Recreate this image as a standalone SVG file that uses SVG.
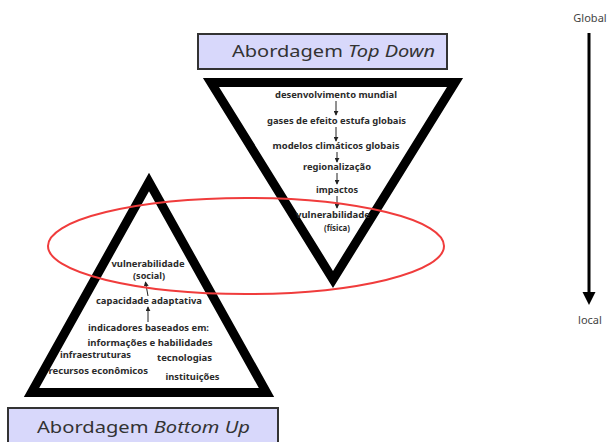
<svg xmlns="http://www.w3.org/2000/svg" width="608" height="442" viewBox="0 0 608 442">
<defs>
<style>
.head{font-family:"Noto Sans","DejaVu Sans",sans-serif;font-size:16px;fill:#333;}
.lbl{font-family:"Noto Sans","DejaVu Sans",sans-serif;font-size:9.2px;font-weight:bold;fill:#2b2b2b;text-anchor:middle;}
.lbs{font-family:"Noto Sans","DejaVu Sans",sans-serif;font-size:9.2px;font-weight:bold;fill:#2b2b2b;}
.side{font-family:"Noto Sans","DejaVu Sans",sans-serif;font-size:11px;fill:#444;text-anchor:middle;}
.tri{fill:#fff;stroke:#000;stroke-width:9;stroke-linejoin:miter;stroke-miterlimit:10;}
.box{fill:#d8d8fb;stroke:#333;stroke-width:2;}
.sm{stroke:#222;stroke-width:1;fill:none;marker-end:url(#ah);}
</style>
<marker id="ah" viewBox="0 0 6 6" refX="5" refY="3" markerWidth="5" markerHeight="5" markerUnits="userSpaceOnUse" orient="auto">
<path d="M0,0 L6,3 L0,6 Z" fill="#222"/>
</marker>
</defs>

<g id="topdown-title">
<rect class="box" x="198" y="34" width="249" height="35"/>
<text class="head" x="232" y="56.5" textLength="203" lengthAdjust="spacingAndGlyphs">Abordagem <tspan font-style="italic">Top Down</tspan></text>
</g>

<g id="topdown-triangle">
<polygon class="tri" points="211,82.5 455,82.5 333,279.5"/>
</g>

<g id="bottomup-triangle">
<polygon class="tri" points="149,182 31.5,392.5 266.5,392.5"/>
</g>

<g id="bottomup-title">
<rect class="box" x="8" y="408" width="270" height="40"/>
<text class="head" x="37" y="433" textLength="213" lengthAdjust="spacingAndGlyphs">Abordagem <tspan font-style="italic">Bottom Up</tspan></text>
</g>

<g id="topdown-labels">
<text class="lbl" x="336" y="98" textLength="122" lengthAdjust="spacingAndGlyphs">desenvolvimento mundial</text>
<text class="lbl" x="336.5" y="124" textLength="139" lengthAdjust="spacingAndGlyphs">gases de efeito estufa globais</text>
<text class="lbl" x="336" y="149" textLength="127" lengthAdjust="spacingAndGlyphs">modelos climáticos globais</text>
<text class="lbl" x="337" y="170" textLength="68" lengthAdjust="spacingAndGlyphs">regionalização</text>
<text class="lbl" x="337" y="193" textLength="42" lengthAdjust="spacingAndGlyphs">impactos</text>
<text class="lbl" x="333" y="217.5" textLength="74" lengthAdjust="spacingAndGlyphs">vulnerabilidade</text>
<text class="lbl" x="337" y="230.5" textLength="26" lengthAdjust="spacingAndGlyphs">(física)</text>
</g>

<g id="bottomup-labels">
<text class="lbl" x="148" y="267" textLength="73" lengthAdjust="spacingAndGlyphs">vulnerabilidade</text>
<text class="lbl" x="149" y="278.5" textLength="32" lengthAdjust="spacingAndGlyphs">(social)</text>
<text class="lbl" x="149" y="303.5" textLength="106" lengthAdjust="spacingAndGlyphs">capacidade adaptativa</text>
<text class="lbl" x="148.5" y="331" textLength="121" lengthAdjust="spacingAndGlyphs">indicadores baseados em:</text>
<text class="lbl" x="150" y="346" textLength="125" lengthAdjust="spacingAndGlyphs">informações e habilidades</text>
<text class="lbs" x="60" y="358" textLength="71" lengthAdjust="spacingAndGlyphs">infraestruturas</text>
<text class="lbs" x="157" y="360.5" textLength="55" lengthAdjust="spacingAndGlyphs">tecnologias</text>
<text class="lbs" x="48.5" y="374" textLength="99.5" lengthAdjust="spacingAndGlyphs">recursos econômicos</text>
<text class="lbs" x="165.5" y="380" textLength="54" lengthAdjust="spacingAndGlyphs">instituições</text>
</g>

<g id="connectors">
<line class="sm" x1="336" y1="101" x2="336" y2="115"/>
<line class="sm" x1="336" y1="127" x2="336" y2="141"/>
<line class="sm" x1="337" y1="152" x2="337" y2="162"/>
<line class="sm" x1="337" y1="173" x2="337" y2="184"/>
<line class="sm" x1="337" y1="196" x2="337" y2="208"/>
<line class="sm" x1="148" y1="296" x2="145.5" y2="282"/>
<line class="sm" x1="148" y1="322" x2="148" y2="307"/>
</g>

<g id="highlight-ellipse">
<ellipse cx="246" cy="246" rx="198" ry="48" fill="none" stroke="#f03c3c" stroke-width="2"/>
</g>

<g id="scale-axis">
<text class="side" x="590" y="22">Global</text>
<line x1="589" y1="33" x2="589" y2="294" stroke="#000" stroke-width="3"/>
<polygon points="582.5,292 595.5,292 589,305" fill="#000"/>
<text class="side" x="590" y="324">local</text>
</g>
</svg>
